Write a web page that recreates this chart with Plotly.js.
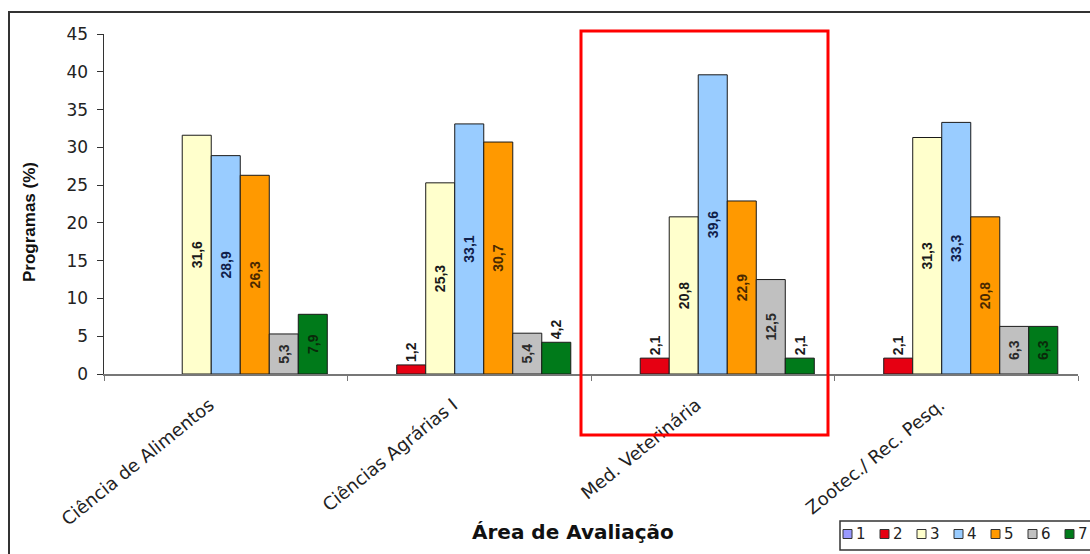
<!DOCTYPE html>
<html>
<head>
<meta charset="utf-8">
<script src="https://cdn.plot.ly/plotly-3.0.1.min.js"></script>
<style>
  html, body { margin: 0; padding: 0; background: #ffffff; }
  #chart { width: 1090px; height: 554px; }
</style>
</head>
<body>
<div id="chart"></div>
<script>
// Categories (Área de Avaliação)
const categories = ["Ciência de Alimentos", "Ciências Agrárias I", "Med. Veterinária", "Zootec./ Rec. Pesq."];
// Series names (legend)
const seriesNames = ["1", "2", "3", "4", "5", "6", "7"];
// Values (% of programs) per series, one per category
const s1 = [0, 0, 0, 0];
const s2 = [0, 1.2, 2.1, 2.1];
const s3 = [31.6, 25.3, 20.8, 31.3];
const s4 = [28.9, 33.1, 39.6, 33.3];
const s5 = [26.3, 30.7, 22.9, 20.8];
const s6 = [5.3, 5.4, 12.5, 6.3];
const s7 = [7.9, 4.2, 2.1, 6.3];
const yTicks = [0, 5, 10, 15, 20, 25, 30, 35, 40, 45];

const seriesValues = [s1, s2, s3, s4, s5, s6, s7];
const fillColors = ["#9999ff", "#e60012", "#ffffcc", "#99ccff", "#ff9900", "#c0c0c0", "#007a1a"];
const labelColors = ["#1a1a40", "#1a1a40", "#1a1a1a", "#10204a", "#4a2a00", "#2a2a2a", "#0a2a0a"];

const fmt = v => v > 0 ? v.toFixed(1).replace('.', ',') : '';
const FONT = 'Arial, Liberation Sans, sans-serif';
const WIDE = 'DejaVu Sans, Arial, sans-serif';

const traces = seriesValues.map((vals, i) => ({
  type: 'bar',
  name: seriesNames[i],
  x: categories,
  y: vals,
  text: vals.map(fmt),
  textposition: vals.map(v => v > 5 ? 'inside' : 'outside'),
  textangle: -90,
  insidetextanchor: 'middle',
  texttemplate: '%{text}',
  textfont: { family: FONT, size: 14, color: labelColors[i], weight: 'bold' },
  insidetextfont: { family: FONT, size: 14, color: labelColors[i], weight: 'bold' },
  outsidetextfont: { family: FONT, size: 14, color: '#1a1a1a', weight: 'bold' },
  constraintext: 'none',
  cliponaxis: false,
  marker: { color: fillColors[i], line: { color: '#1a1a1a', width: vals.map(v => v > 0 ? 1 : 0) } },
  showlegend: false,
  hoverinfo: 'x+y+name'
}));

const L = 104, R = 1078, T = 34, B = 374;
const px = x => (x - L) / (R - L);
const py = y => (B - y) / (B - T);

// Legend (drawn from the series names and colours)
const legX0 = 843, legStep = 37, legY = 534, sq = 9;
const legendShapes = seriesNames.map((n, i) => ({
  type: 'rect', xref: 'paper', yref: 'paper',
  x0: px(legX0 + i * legStep), x1: px(legX0 + i * legStep + sq),
  y0: py(legY + sq / 2), y1: py(legY - sq / 2),
  line: { color: '#333333', width: 1 }, fillcolor: fillColors[i], layer: 'above'
}));
const legendTexts = seriesNames.map((n, i) => ({
  text: n, xref: 'paper', yref: 'paper',
  x: px(legX0 + i * legStep + sq + 2), y: py(legY),
  xanchor: 'left', yanchor: 'middle', showarrow: false,
  font: { family: WIDE, size: 15, color: '#222222' }
}));

const layout = {
  width: 1090,
  height: 554,
  margin: { l: L, r: 1090 - R, t: T, b: 554 - B },
  paper_bgcolor: '#ffffff',
  plot_bgcolor: '#ffffff',
  separators: ',.',
  barmode: 'group',
  bargap: 0.166,
  bargroupgap: 0,
  font: { family: FONT, color: '#222222' },
  showlegend: false,
  xaxis: {
    type: 'category',
    tickangle: -39,
    tickfont: { family: WIDE, size: 18, color: '#222222' },
    ticklabelstandoff: 12,
    ticklabelshift: -16,
    showline: true, linecolor: '#777777', linewidth: 1.5,
    ticks: 'outside', tickson: 'boundaries', ticklen: 5, tickcolor: '#777777',
    showgrid: false, zeroline: false,
    automargin: false,
    fixedrange: true
  },
  yaxis: {
    range: [0, 45],
    tickvals: yTicks,
    ticktext: yTicks.map(String),
    tickfont: { family: WIDE, size: 17, color: '#222222' },
    ticklabelstandoff: 5,
    showline: true, linecolor: '#333333', linewidth: 1.5,
    ticks: 'outside', ticklen: 6, tickcolor: '#333333',
    showgrid: false, zeroline: false,
    automargin: false,
    fixedrange: true
  },
  annotations: [
    {
      text: 'Área de Avaliação',
      xref: 'paper', yref: 'paper',
      x: px(573), y: py(532),
      xanchor: 'center', yanchor: 'middle',
      showarrow: false,
      font: { family: WIDE, size: 20, color: '#111111', weight: 'bold' }
    },
    {
      text: 'Programas (%)',
      xref: 'paper', yref: 'paper',
      x: px(29), y: py(222),
      xanchor: 'center', yanchor: 'middle',
      textangle: -90,
      showarrow: false,
      font: { family: FONT, size: 17, color: '#111111', weight: 'bold' }
    }
  ].concat(legendTexts),
  shapes: [
    {
      type: 'rect', xref: 'paper', yref: 'paper',
      x0: px(9), x1: px(1100), y0: py(560), y1: py(12),
      line: { color: '#333333', width: 2 }, fillcolor: 'rgba(0,0,0,0)', layer: 'above'
    },
    {
      type: 'rect', xref: 'paper', yref: 'paper',
      x0: px(840), x1: px(1100), y0: py(550), y1: py(521),
      line: { color: '#333333', width: 1.5 }, fillcolor: '#ffffff', layer: 'below'
    },
    {
      type: 'rect', xref: 'paper', yref: 'paper',
      x0: px(581), x1: px(828), y0: py(435), y1: py(31),
      line: { color: '#ff0000', width: 3 }, fillcolor: 'rgba(0,0,0,0)', layer: 'above'
    }
  ].concat(legendShapes)
};

Plotly.newPlot('chart', traces, layout, { displayModeBar: false, staticPlot: true });
</script>
</body>
</html>
